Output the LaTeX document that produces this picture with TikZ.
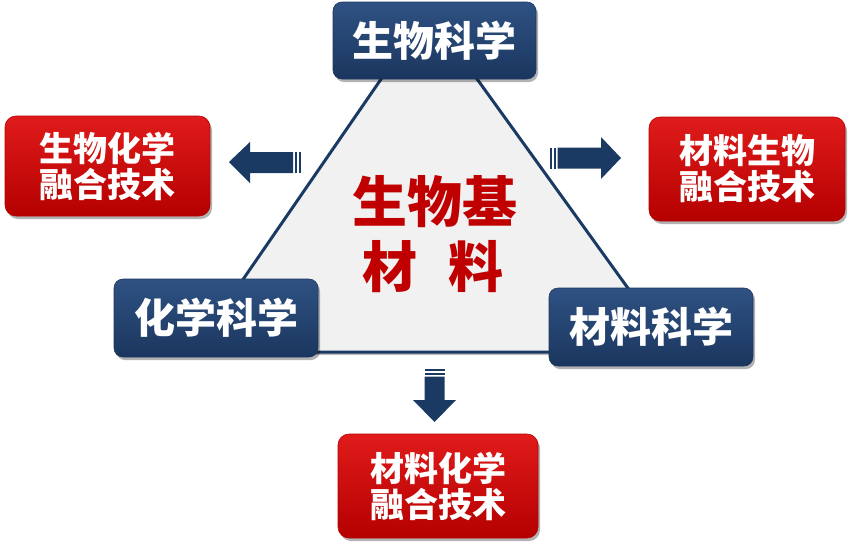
\documentclass[tikz,border=0pt]{standalone}
\usepackage{fontspec}
\newfontfamily\cjk{Noto Sans CJK SC}[BoldFont={Noto Sans CJK SC Black}]
\usetikzlibrary{shadows}
\definecolor{navyT}{HTML}{2F5283}
\definecolor{navyB}{HTML}{1A365E}
\definecolor{navyL}{HTML}{1B3A63}
\definecolor{redT}{HTML}{E01B1B}
\definecolor{redB}{HTML}{B50000}
\definecolor{triF}{HTML}{F1F1F1}
\definecolor{ctext}{HTML}{C00000}
\tikzset{
  boxshadow/.style={drop shadow={shadow xshift=2pt, shadow yshift=-3pt, opacity=0.3, fill=black}},
  bluebox/.style={rounded corners=9pt, top color=navyT, bottom color=navyB, draw=navyB,
    line width=0.6pt, text=white, inner sep=0pt, boxshadow,
    font=\cjk\bfseries\fontsize{41}{44}\selectfont},
  redbox/.style={rounded corners=11pt, top color=redT, bottom color=redB, draw=redB,
    line width=0.6pt, text=white, inner sep=0pt, boxshadow, align=center,
    font=\cjk\bfseries\fontsize{34}{36}\selectfont},
  centertext/.style={text=ctext, inner sep=0pt, font=\cjk\bfseries\fontsize{55}{60}\selectfont},
  arrowfill/.style={fill=navyL},
}
\begin{document}
\begin{tikzpicture}[x=1pt, y=-1pt]
\useasboundingbox (0,0) rectangle (849,547);
% triangle
\coordinate (apex) at (428,11);
\coordinate (bl) at (193,352);
\coordinate (br) at (674,352);
\draw[fill=triF, draw=navyL, line width=3pt, line join=miter,
  drop shadow={shadow xshift=2pt, shadow yshift=-3pt, opacity=0.25, fill=black}]
  (apex) -- (br) -- (bl) -- cycle;
% blue boxes
\node[bluebox, minimum width=203pt, minimum height=77pt] (bio) at (434.5,40.5) {生物科学};
\node[bluebox, minimum width=204pt, minimum height=78pt] (chem) at (216,318) {化学科学};
\node[bluebox, minimum width=204pt, minimum height=78pt] (mat) at (651,327) {材料科学};
% red boxes
\node[redbox, minimum width=205pt, minimum height=100pt] (biochem) at (107.5,166) {生物化学\\融合技术};
\node[redbox, minimum width=196pt, minimum height=104pt] (matbio) at (747,169) {材料生物\\融合技术};
\node[redbox, minimum width=200pt, minimum height=104pt] (matchem) at (438,486) {材料化学\\融合技术};
% center text
\node[centertext] (t1) at (435,202) {生物基};
\node[centertext] (t2) at (433,267) {材\hspace{31pt}料};
% left arrow
\fill[arrowfill] (229,162) -- (250,142) -- (250,152) -- (293,152) -- (293,173) -- (250,173) -- (250,183) -- cycle;
\fill[arrowfill] (295,152) rectangle (297,173);
\fill[arrowfill] (298.5,152) rectangle (300.5,173);
% right arrow
\fill[arrowfill] (621,158) -- (601,137) -- (601,147.5) -- (557.5,147.5) -- (557.5,168.5) -- (601,168.5) -- (601,179) -- cycle;
\fill[arrowfill] (553.5,147.5) rectangle (555.5,168.5);
\fill[arrowfill] (550,147.5) rectangle (552,168.5);
% down arrow
\fill[arrowfill] (434.5,422) -- (413,400) -- (424.5,400) -- (424.5,376.5) -- (444.5,376.5) -- (444.5,400) -- (456,400) -- cycle;
\fill[arrowfill] (424.5,372.5) rectangle (444.5,374.5);
\fill[arrowfill] (424.5,369) rectangle (444.5,371);
\end{tikzpicture}
\end{document}
